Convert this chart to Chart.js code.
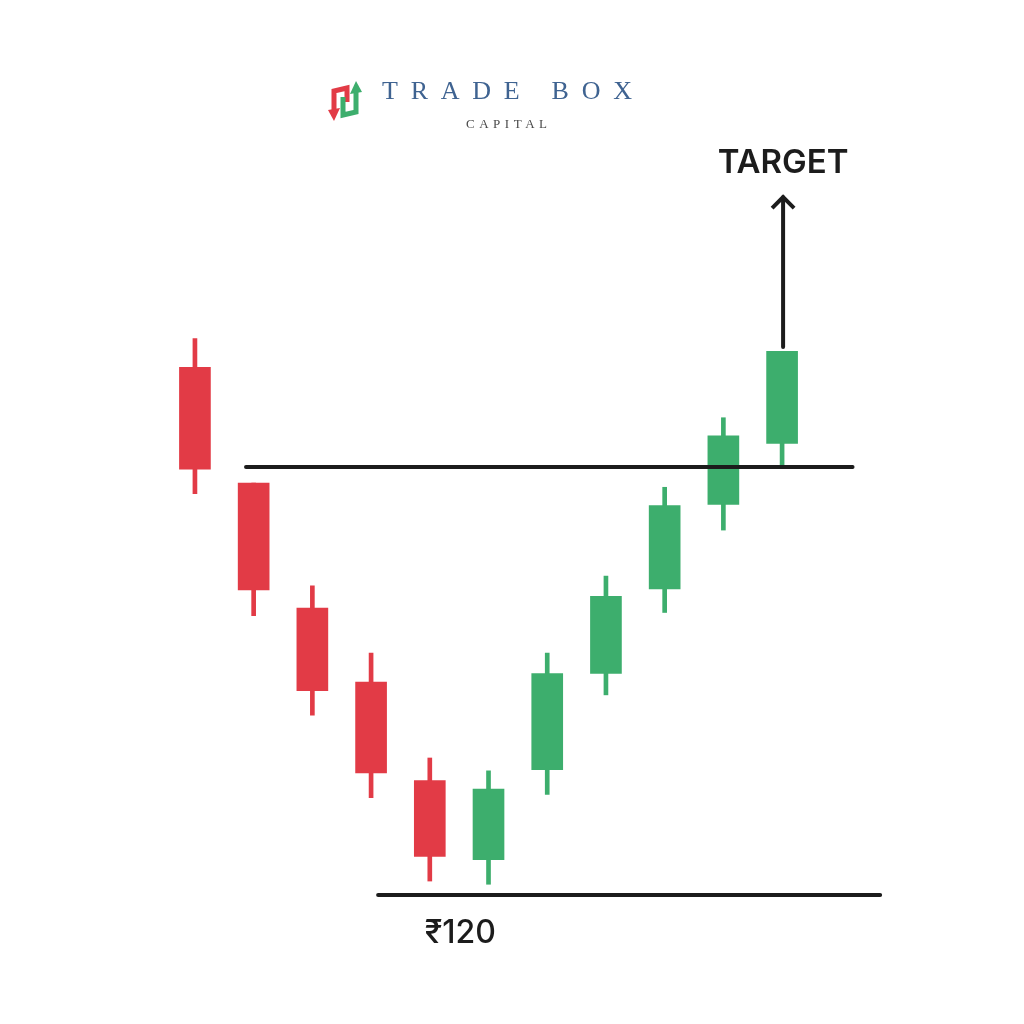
<!DOCTYPE html>
<html>
<head>
<meta charset="utf-8">
<script src="https://cdn.jsdelivr.net/npm/chart.js@4.4.0/dist/chart.umd.min.js"></script>
<style>
  html, body { margin: 0; padding: 0; background: #fff; }
  #wrap { width: 1024px; height: 1024px; }
</style>
</head>
<body>
<div id="wrap"><canvas id="candleChart"></canvas></div>
<script>
// candles (price in rupees), one per session
const sessions = [0, 1, 2, 3, 4, 5, 6, 7, 8, 9, 10];
const opens  = [169.3, 158.5, 146.8, 139.9, 130.7, 123.3, 131.7, 140.7, 148.6, 156.5, 162.2];
const closes = [159.8, 148.5, 139.1, 131.4, 123.6, 129.9, 140.7, 147.9, 156.4, 162.9, 170.8];
const highs  = [172.0, 158.5, 148.9, 142.6, 132.8, 131.6, 142.6, 149.8, 158.1, 164.6, 170.8];
const lows   = [157.5, 146.1, 136.8, 129.1, 121.3, 121.0, 129.4, 138.7, 146.4, 154.1, 160.0];

// levels drawn on top
const supportLevel = 120;
const supportSpan = [3.12, 11.67];
const resistanceLevel = 160;
const resistanceSpan = [0.87, 11.2];
const targetArrow = [171.2, 185.4];
const supportLabel = '₹120';
const supportLabelAt = 4.52;
const targetLabel = 'TARGET';

const RED = '#e23b46';
const GREEN = '#3dae6d';
const INK = '#1c1c1c';

const colors = sessions.map((s, i) => closes[i] >= opens[i] ? GREEN : RED);

const bodies = sessions.map((s, i) => ({ x: s, y: [opens[i], closes[i]] }));
const wicks = sessions.map((s, i) => ({ x: s, y: [lows[i], highs[i]] }));

function drawLogo(ctx) {
  // little icon
  ctx.save();
  ctx.lineWidth = 5;
  ctx.lineJoin = 'miter';
  ctx.strokeStyle = RED;
  ctx.fillStyle = RED;
  ctx.beginPath();
  ctx.moveTo(347, 102); ctx.lineTo(347, 88); ctx.lineTo(334, 91); ctx.lineTo(334, 111);
  ctx.stroke();
  ctx.beginPath();
  ctx.moveTo(328, 110); ctx.lineTo(340, 108); ctx.lineTo(334, 121); ctx.closePath();
  ctx.fill();

  ctx.strokeStyle = GREEN;
  ctx.fillStyle = GREEN;
  ctx.beginPath();
  ctx.moveTo(343, 97); ctx.lineTo(343, 115); ctx.lineTo(356, 112); ctx.lineTo(356, 92);
  ctx.stroke();
  ctx.beginPath();
  ctx.moveTo(350, 94); ctx.lineTo(362, 92); ctx.lineTo(356, 81); ctx.closePath();
  ctx.fill();
  ctx.restore();

  ctx.save();
  ctx.textBaseline = 'alphabetic';
  ctx.textAlign = 'left';
  ctx.fillStyle = '#3f6391';
  ctx.font = '26px "Liberation Serif", "DejaVu Serif", serif';
  let t = 'TRADE BOX';
  ctx.letterSpacing = '0px';
  let w = ctx.measureText(t).width;
  ctx.letterSpacing = ((250 - w) / (t.length - 1)) + 'px';
  ctx.fillText(t, 382, 99);

  ctx.fillStyle = '#4a4a4a';
  ctx.font = '13px "Liberation Serif", "DejaVu Serif", serif';
  t = 'CAPITAL';
  ctx.letterSpacing = '0px';
  w = ctx.measureText(t).width;
  ctx.letterSpacing = ((81 - w) / (t.length - 1)) + 'px';
  ctx.fillText(t, 466, 128);
  ctx.restore();
}

const overlay = {
  id: 'overlay',
  afterDatasetsDraw(chart) {
    const { ctx, scales: { x, y } } = chart;
    ctx.save();
    ctx.strokeStyle = INK;
    ctx.fillStyle = INK;
    ctx.lineWidth = 4;
    ctx.lineCap = 'round';

    // resistance
    ctx.beginPath();
    ctx.moveTo(x.getPixelForValue(resistanceSpan[0]), y.getPixelForValue(resistanceLevel));
    ctx.lineTo(x.getPixelForValue(resistanceSpan[1]), y.getPixelForValue(resistanceLevel));
    ctx.stroke();

    // support
    ctx.beginPath();
    ctx.moveTo(x.getPixelForValue(supportSpan[0]), y.getPixelForValue(supportLevel));
    ctx.lineTo(x.getPixelForValue(supportSpan[1]), y.getPixelForValue(supportLevel));
    ctx.stroke();

    // target arrow on the last candle
    const ax = x.getPixelForValue(sessions[sessions.length - 1]) + 1;
    const ay0 = y.getPixelForValue(targetArrow[0]);
    const ay1 = y.getPixelForValue(targetArrow[1]);
    ctx.beginPath();
    ctx.moveTo(ax, ay0);
    ctx.lineTo(ax, ay1 + 2);
    ctx.stroke();
    ctx.lineCap = 'butt';
    ctx.lineJoin = 'miter';
    ctx.beginPath();
    ctx.moveTo(ax - 11, ay1 + 13);
    ctx.lineTo(ax, ay1 + 2);
    ctx.lineTo(ax + 11, ay1 + 13);
    ctx.stroke();

    // labels
    ctx.textAlign = 'center';
    ctx.textBaseline = 'alphabetic';
    ctx.font = '600 33px Inter, "Noto Sans", sans-serif';
    ctx.fillText(targetLabel, ax, ay1 - 22);
    ctx.font = '500 32px Inter, "Noto Sans", sans-serif';
    ctx.fillText(supportLabel, x.getPixelForValue(supportLabelAt), y.getPixelForValue(supportLevel) + 48);
    ctx.restore();

    drawLogo(ctx);
  }
};

const ctx = document.getElementById('candleChart').getContext('2d');

const chart = new Chart(ctx, {
  type: 'bar',
  data: {
    datasets: [
      {
        label: 'body',
        data: bodies,
        backgroundColor: colors,
        borderWidth: 0,
        barThickness: 31,
        grouped: false,
        order: 0
      },
      {
        label: 'wick',
        data: wicks,
        backgroundColor: colors,
        borderWidth: 0,
        barThickness: 4,
        grouped: false,
        order: 1
      }
    ]
  },
  options: {
    responsive: true,
    maintainAspectRatio: false,
    animation: false,
    layout: { padding: 0 },
    scales: {
      x: { type: 'linear', min: -3.32, max: 14.12, offset: false, display: false },
      y: { min: 107.94, max: 203.64, display: false }
    },
    plugins: {
      legend: { display: false },
      tooltip: { enabled: false }
    }
  },
  plugins: [overlay]
});
</script>
</body>
</html>
